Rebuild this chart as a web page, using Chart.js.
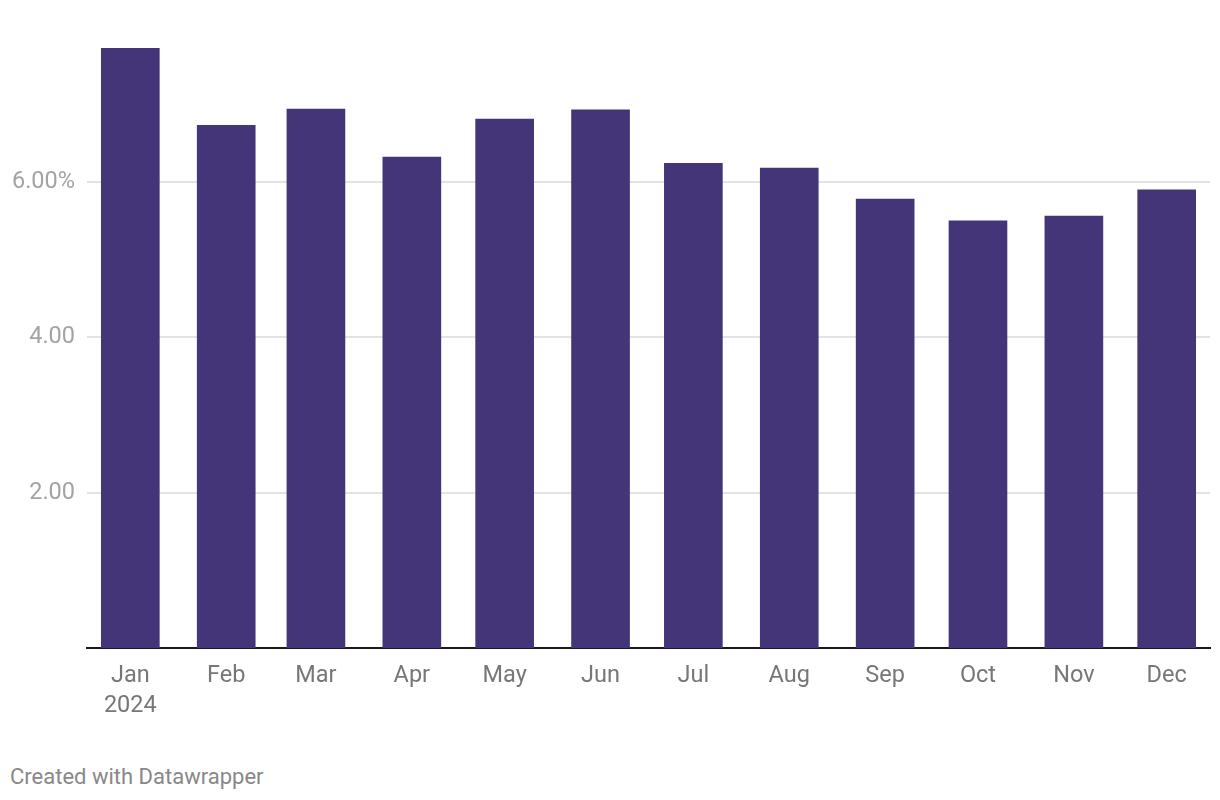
<!DOCTYPE html>
<html>
<head>
<meta charset="utf-8">
<script src="https://cdn.jsdelivr.net/npm/chart.js@4"></script>
<style>
  html, body { margin: 0; padding: 0; background: #ffffff; }
  #wrap { position: relative; width: 1220px; height: 800px; }
  #c { position: absolute; left: 0; top: 0; }
  #credit { position: absolute; left: 10px; top: 764px; font-family: Roboto, sans-serif; font-size: 22px; color: #888888; }
</style>
</head>
<body>
<div id="wrap">
  <canvas id="c" width="1220" height="750"></canvas>
  <div id="credit">Created with Datawrapper</div>
</div>
<script>
const months = ['Jan', 'Feb', 'Mar', 'Apr', 'May', 'Jun', 'Jul', 'Aug', 'Sep', 'Oct', 'Nov', 'Dec'];
const year = 2024;
const values = [7.725, 6.73, 6.94, 6.32, 6.81, 6.93, 6.24, 6.18, 5.78, 5.50, 5.56, 5.90];
const yTicks = [2, 4, 6];
const yTickLabels = ['2.00', '4.00', '6.00%'];

const DAY = 86400000;
const dayOffsets = months.map((m, i) => (Date.UTC(year, i, 1) - Date.UTC(year, 0, 1)) / DAY);
const xLabels = months.map((m, i) => i === 0 ? [m, String(year)] : m);

new Chart(document.getElementById('c'), {
  type: 'bar',
  data: {
    datasets: [{
      data: dayOffsets.map((d, i) => ({ x: d, y: values[i] })),
      backgroundColor: '#433578',
      barThickness: 58,
      borderWidth: 0
    }]
  },
  options: {
    responsive: false,
    animation: false,
    events: [],
    layout: { padding: { top: 48, right: 10, left: 0, bottom: 0 } },
    plugins: { legend: { display: false }, tooltip: { enabled: false } },
    scales: {
      x: {
        type: 'linear',
        offset: false,
        min: dayOffsets[0] - 14,
        max: dayOffsets[dayOffsets.length - 1] + 14,
        afterBuildTicks: s => { s.ticks = dayOffsets.map(v => ({ value: v })); },
        afterFit: s => { s.height = 102; },
        grid: { display: false, drawTicks: false, offset: false },
        border: { display: true, color: '#1a1a1a', width: 2 },
        ticks: {
          autoSkip: false,
          maxRotation: 0,
          padding: 13,
          color: '#777777',
          font: { family: 'Roboto', size: 23.5, lineHeight: 1.28 },
          callback: (v, i) => xLabels[i]
        }
      },
      y: {
        min: 0,
        max: values[0],
        afterBuildTicks: s => { s.ticks = yTicks.map(v => ({ value: v })); },
        afterFit: s => { s.width = 87; },
        grid: { color: '#e3e3e3', lineWidth: 2, drawTicks: false },
        border: { display: false },
        ticks: {
          padding: 12,
          color: '#a3a3a3',
          font: { family: 'Roboto', size: 23.5 },
          callback: (v, i) => yTickLabels[i]
        }
      }
    }
  }
});
</script>
</body>
</html>
